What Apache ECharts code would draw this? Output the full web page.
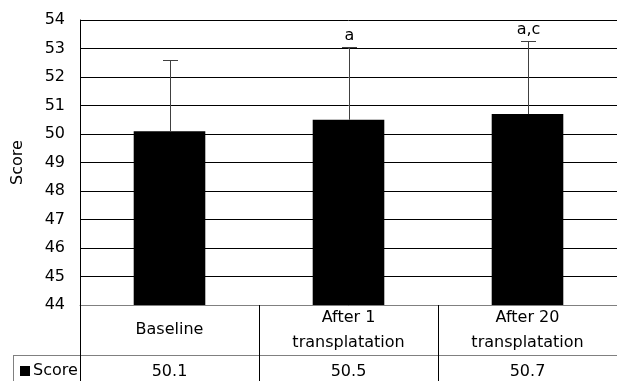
<!DOCTYPE html>
<html>
<head>
<meta charset="utf-8">
<script src="https://cdn.jsdelivr.net/npm/echarts@6/dist/echarts.min.js"></script>
<style>html,body{margin:0;padding:0;background:#fff;}#c{width:617px;height:381px;}</style>
</head>
<body>
<div id="c"></div>
<script>
const categories = ['Baseline', 'After 1\ntransplatation', 'After 20\ntransplatation'];
const scores = [50.1, 50.5, 50.7];
const errorUpper = [52.6, 53.05, 53.25];
const annotations = ['', 'a', 'a,c'];
const yMin = 44, yMax = 54, yStep = 1;

const FONT = 'DejaVu Sans';
const chart = echarts.init(document.getElementById('c'), null, {renderer: 'canvas'});
const G = {left: 80, right: 0, top: 20, bottom: 76};
const W = 617, H = 381;
const tableRowY = 355.5;

chart.setOption({
  animation: false,
  textStyle: {fontFamily: FONT, color: '#000'},
  grid: {left: G.left, right: G.right, top: G.top, bottom: G.bottom, containLabel: false, outerBoundsMode: 'none'},
  legend: {
    data: ['Score'], icon: 'rect', itemWidth: 10, itemHeight: 10,
    left: 20, top: 363, padding: 0,
    textStyle: {fontFamily: FONT, fontSize: 16, color: '#000', padding: [0, 0, 0, -2]}
  },
  xAxis: [{
    type: 'category', data: categories, position: 'bottom',
    axisLine: {show: true, lineStyle: {color: '#808080', width: 1}},
    axisTick: {show: true, length: 76, lineStyle: {color: '#000', width: 1}},
    axisLabel: {fontFamily: FONT, fontSize: 16, color: '#000', lineHeight: 25, verticalAlign: 'middle', margin: 25, interval: 0}
  }, {
    type: 'category', data: scores.map(v => v.toFixed(1)), position: 'bottom', gridIndex: 0,
    axisLine: {show: false}, axisTick: {show: false},
    axisLabel: {fontFamily: FONT, fontSize: 16, color: '#000', verticalAlign: 'middle', margin: 67, interval: 0}
  }],
  yAxis: {
    type: 'value', min: yMin, max: yMax, interval: yStep,
    name: 'Score', nameLocation: 'middle', nameGap: 54, nameRotate: 90,
    nameTextStyle: {fontFamily: FONT, fontSize: 16, color: '#000'},
    axisLine: {show: true, lineStyle: {color: '#000', width: 1}},
    axisTick: {show: false},
    axisLabel: {fontFamily: FONT, fontSize: 16, color: '#000', margin: 15},
    splitLine: {show: true, lineStyle: {color: '#000', width: 1}}
  },
  series: [{
    name: 'Score', type: 'bar', data: scores, barWidth: '40%',
    itemStyle: {color: '#000'}, z: 2
  }, {
    name: 'err', type: 'custom', z: 3,
    data: scores.map((s, i) => [i, s, errorUpper[i]]),
    encode: {x: 0, y: [1, 2]},
    renderItem: function (params, api) {
      const i = api.value(0);
      const base = api.coord([i, api.value(1)]);
      const top = api.coord([i, api.value(2)]);
      const x = Math.round(base[0]) + 0.5;
      const ty = Math.round(top[1]) + 0.5;
      const half = 7.5;
      const style = {stroke: '#404040', lineWidth: 1};
      return {
        type: 'group',
        children: [
          {type: 'line', shape: {x1: x, y1: base[1], x2: x, y2: ty}, style: style},
          {type: 'line', shape: {x1: x - half, y1: ty, x2: x + half, y2: ty}, style: style},
          {type: 'text', style: {text: annotations[params.dataIndex], x: x, y: ty - 4,
            textAlign: 'center', textVerticalAlign: 'bottom', fill: '#000',
            font: '16px "' + FONT + '"'}}
        ]
      };
    }
  }],
  graphic: [
    {type: 'line', shape: {x1: 13, y1: tableRowY, x2: W, y2: tableRowY}, style: {stroke: '#808080', lineWidth: 1}},
    {type: 'line', shape: {x1: 13.5, y1: tableRowY, x2: 13.5, y2: H}, style: {stroke: '#808080', lineWidth: 1}}
  ]
});
</script>
</body>
</html>
